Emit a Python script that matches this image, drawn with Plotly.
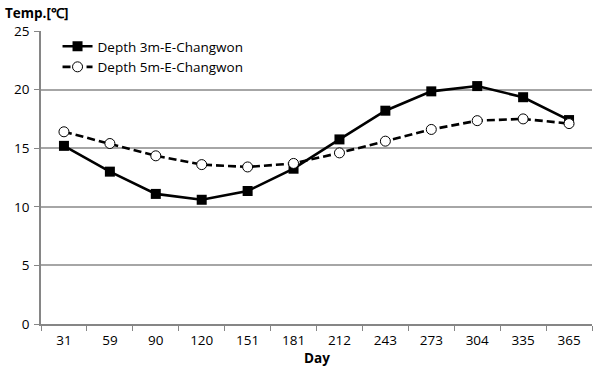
import plotly.graph_objects as go

days = ["31", "59", "90", "120", "151", "181", "212", "243", "273", "304", "335", "365"]
depth_3m = [15.2, 13.0, 11.1, 10.6, 11.35, 13.25, 15.75, 18.2, 19.85, 20.3, 19.35, 17.4]
depth_5m = [16.4, 15.4, 14.35, 13.6, 13.4, 13.7, 14.6, 15.6, 16.6, 17.35, 17.5, 17.1]
y_ticks = [0, 5, 10, 15, 20, 25]

FONT = "Open Sans, Liberation Sans, sans-serif"
GRID = "#a6a6a6"
AXIS = "#868686"

fig = go.Figure()
fig.add_trace(go.Scatter(
    x=days, y=depth_3m, name="Depth 3m-E-Changwon", mode="lines+markers",
    line=dict(color="black", width=2.6),
    marker=dict(symbol="square", size=10, color="black"),
))
fig.add_trace(go.Scatter(
    x=days, y=depth_5m, name="Depth 5m-E-Changwon", mode="lines+markers",
    line=dict(color="black", width=2.6, dash="8px,4px"),
    marker=dict(symbol="circle", size=10, color="white",
                line=dict(color="black", width=1)),
))

fig.update_layout(
    width=593, height=368,
    margin=dict(l=41, r=1, t=31, b=44),
    paper_bgcolor="white", plot_bgcolor="white",
    font=dict(family=FONT, size=13.5, color="black"),
    showlegend=True,
    legend=dict(x=0.03, y=1.0, xanchor="left", yanchor="top",
                bgcolor="rgba(0,0,0,0)", font=dict(size=13.5),
                tracegroupgap=0, itemwidth=30),
    xaxis=dict(
        type="category", range=[-0.5, len(days) - 0.5],
        tickson="boundaries", ticks="outside", ticklen=5,
        tickcolor=AXIS, showline=True, linecolor=AXIS, linewidth=1.5,
        showgrid=False, tickfont=dict(size=13.5), automargin=False,
        ticklabelstandoff=3,
    ),
    yaxis=dict(
        range=[0, 25], tickvals=y_ticks, ticks="outside", ticklen=5,
        tickcolor=AXIS, showline=True, linecolor=AXIS, linewidth=1.5,
        showgrid=True, gridcolor=GRID, gridwidth=1.5,
        zeroline=False, tickfont=dict(size=13.5), automargin=False,
        ticklabelstandoff=2,
    ),
    annotations=[
        dict(text="<b>Temp.[℃]</b>", xref="paper", yref="paper",
             x=-0.069, y=1.061, xanchor="left", yanchor="middle",
             showarrow=False, font=dict(size=13.5)),
        dict(text="<b>Day</b>", xref="paper", yref="paper",
             x=0.5, y=-0.116, xanchor="center", yanchor="middle",
             showarrow=False, font=dict(size=13.5)),
    ],
)

fig.write_html("out.html")
